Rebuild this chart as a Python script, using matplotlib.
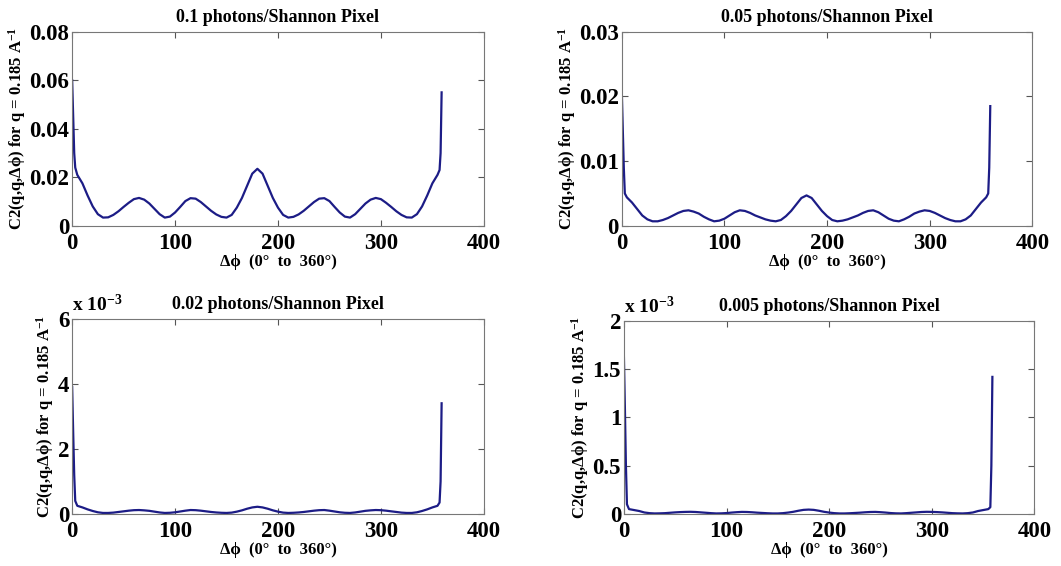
import matplotlib
matplotlib.use('Agg')
import matplotlib.pyplot as plt

plt.rcParams['font.family'] = ['Liberation Serif', 'DejaVu Serif']
plt.rcParams['font.weight'] = 'bold'
plt.rcParams['mathtext.fontset'] = 'custom'
plt.rcParams['mathtext.rm'] = 'Liberation Serif:bold'
plt.rcParams['mathtext.bf'] = 'Liberation Serif:bold'
plt.rcParams['mathtext.it'] = 'Liberation Serif:bold'

# angle samples (degrees)
phi = [0, 1, 2, 3] + list(range(5, 356, 5)) + [357, 358, 359]

# C2 at 0.1 photons/Shannon pixel
c2_010 = [0.060, 0.045, 0.030, 0.024,
          0.021, 0.0175, 0.0125, 0.008, 0.0048, 0.0034, 0.0035, 0.0045, 0.006, 0.0078,
          0.0095, 0.011, 0.0115, 0.0108, 0.0092, 0.007, 0.0048, 0.0034, 0.0038, 0.0055,
          0.0078, 0.0102, 0.0114, 0.0112, 0.0098, 0.008, 0.0062, 0.0047, 0.0037, 0.0034,
          0.0045, 0.0075, 0.0115, 0.0165, 0.0215, 0.0235, 0.0215, 0.0165, 0.0115, 0.0075,
          0.0045, 0.0034, 0.0037, 0.0047, 0.0062, 0.008, 0.0098, 0.0112, 0.0114, 0.0102,
          0.0078, 0.0055, 0.0038, 0.0034, 0.0048, 0.007, 0.0092, 0.0108, 0.0115, 0.011,
          0.0095, 0.0078, 0.006, 0.0045, 0.0035, 0.0034, 0.0048, 0.008, 0.0125, 0.0175,
          0.021,
          0.023, 0.030, 0.055]

# C2 at 0.05 photons/Shannon pixel
c2_005 = [0.021, 0.015, 0.009, 0.005,
          0.0044, 0.0036, 0.0026, 0.0016, 0.001, 0.0007, 0.0007, 0.0009, 0.0012, 0.0016,
          0.002, 0.0023, 0.0024, 0.0022, 0.0019, 0.0014, 0.001, 0.0007, 0.0008, 0.0011,
          0.0016, 0.0021, 0.0024, 0.0023, 0.002, 0.0016, 0.0013, 0.001, 0.0008, 0.0007,
          0.0009, 0.0015, 0.0023, 0.0033, 0.0043, 0.0047, 0.0043, 0.0033, 0.0023, 0.0015,
          0.0009, 0.0007, 0.0008, 0.001, 0.0013, 0.0016, 0.002, 0.0023, 0.0024, 0.0021,
          0.0016, 0.0011, 0.0008, 0.0007, 0.001, 0.0014, 0.0019, 0.0022, 0.0024, 0.0023,
          0.002, 0.0016, 0.0012, 0.0009, 0.0007, 0.0007, 0.001, 0.0016, 0.0026, 0.0036,
          0.0044,
          0.005, 0.009, 0.0185]

# C2 at 0.02 photons/Shannon pixel (units of 1e-3)
c2_002 = [3.9, 2.5, 1.2, 0.4,
          0.25, 0.2, 0.14, 0.09, 0.05, 0.03, 0.03, 0.04, 0.06, 0.08,
          0.1, 0.115, 0.12, 0.11, 0.095, 0.07, 0.045, 0.03, 0.035, 0.05,
          0.075, 0.1, 0.12, 0.115, 0.1, 0.08, 0.06, 0.045, 0.035, 0.03,
          0.04, 0.07, 0.11, 0.16, 0.2, 0.22, 0.2, 0.16, 0.11, 0.07,
          0.04, 0.03, 0.035, 0.045, 0.06, 0.08, 0.1, 0.115, 0.12, 0.1,
          0.075, 0.05, 0.035, 0.03, 0.045, 0.07, 0.095, 0.11, 0.12, 0.115,
          0.1, 0.08, 0.06, 0.04, 0.03, 0.03, 0.05, 0.09, 0.14, 0.2,
          0.25,
          0.35, 1.0, 3.4]

# C2 at 0.005 photons/Shannon pixel (units of 1e-3)
c2_0005 = [1.65, 1.1, 0.5, 0.1,
           0.05, 0.04, 0.03, 0.015, 0.008, 0.005, 0.006, 0.008, 0.012, 0.016,
           0.019, 0.021, 0.022, 0.02, 0.016, 0.012, 0.008, 0.005, 0.006, 0.009,
           0.014, 0.018, 0.021, 0.02, 0.017, 0.013, 0.01, 0.007, 0.005, 0.005,
           0.008, 0.014, 0.022, 0.033, 0.042, 0.045, 0.042, 0.033, 0.022, 0.014,
           0.008, 0.005, 0.005, 0.007, 0.01, 0.013, 0.017, 0.02, 0.021, 0.018,
           0.014, 0.009, 0.006, 0.005, 0.008, 0.012, 0.016, 0.02, 0.022, 0.021,
           0.019, 0.016, 0.012, 0.008, 0.006, 0.005, 0.008, 0.015, 0.03, 0.04,
           0.05,
           0.07, 0.5, 1.42]

titles = ['0.1 photons/Shannon Pixel', '0.05 photons/Shannon Pixel',
          '0.02 photons/Shannon Pixel', '0.005 photons/Shannon Pixel']
series = [c2_010, c2_005, c2_002, c2_0005]
yticks = [[0, 0.02, 0.04, 0.06, 0.08], [0, 0.01, 0.02, 0.03],
          [0, 2, 4, 6], [0, 0.5, 1, 1.5, 2]]
ytick_labels = [['0', '0.02', '0.04', '0.06', '0.08'], ['0', '0.01', '0.02', '0.03'],
                ['0', '2', '4', '6'], ['0', '0.5', '1', '1.5', '2']]
exponent = [None, None, -3, -3]

# axes boxes in figure fraction [left, bottom, width, height]
boxes = [[0.068, 0.601, 0.388, 0.343], [0.586, 0.601, 0.387, 0.343],
         [0.068, 0.092, 0.388, 0.345], [0.588, 0.092, 0.387, 0.341]]

fig = plt.figure(figsize=(10.61, 5.66), dpi=100)

for i in range(4):
    ax = fig.add_axes(boxes[i])
    ax.plot(phi, series[i], color='#1c1c86', linewidth=1.6)
    ax.set_xlim(0, 400)
    ax.set_ylim(yticks[i][0], yticks[i][-1])
    ax.set_xticks([0, 100, 200, 300, 400])
    ax.set_xticklabels(['0', '100', '200', '300', '400'])
    ax.set_yticks(yticks[i])
    ax.set_yticklabels(ytick_labels[i])
    ax.tick_params(direction='in', top=True, right=True, length=4, width=0.8,
                   color='#555555', labelsize=16.5)
    ax.tick_params(axis='x', pad=5)
    ax.tick_params(axis='y', pad=2)
    for lab in ax.get_xticklabels() + ax.get_yticklabels():
        lab.set_fontweight('bold')
    for sp in ax.spines.values():
        sp.set_color('#777777')
        sp.set_linewidth(0.8)
    ax.set_title(titles[i], fontsize=13, fontweight='bold', pad=7)
    ax.set_xlabel('Δϕ  (0°  to  360°)', fontsize=12, fontweight='bold', labelpad=0)
    ax.set_ylabel('C2(q,q,Δϕ) for q = 0.185 A$^{-1}$', fontsize=12,
                  fontweight='bold', labelpad=1)
    if exponent[i] is not None:
        ax.text(0.0, 1.02, 'x 10$^{-3}$', transform=ax.transAxes, fontsize=14,
                fontweight='bold', ha='left', va='bottom')

fig.savefig('out.png', dpi=100)
